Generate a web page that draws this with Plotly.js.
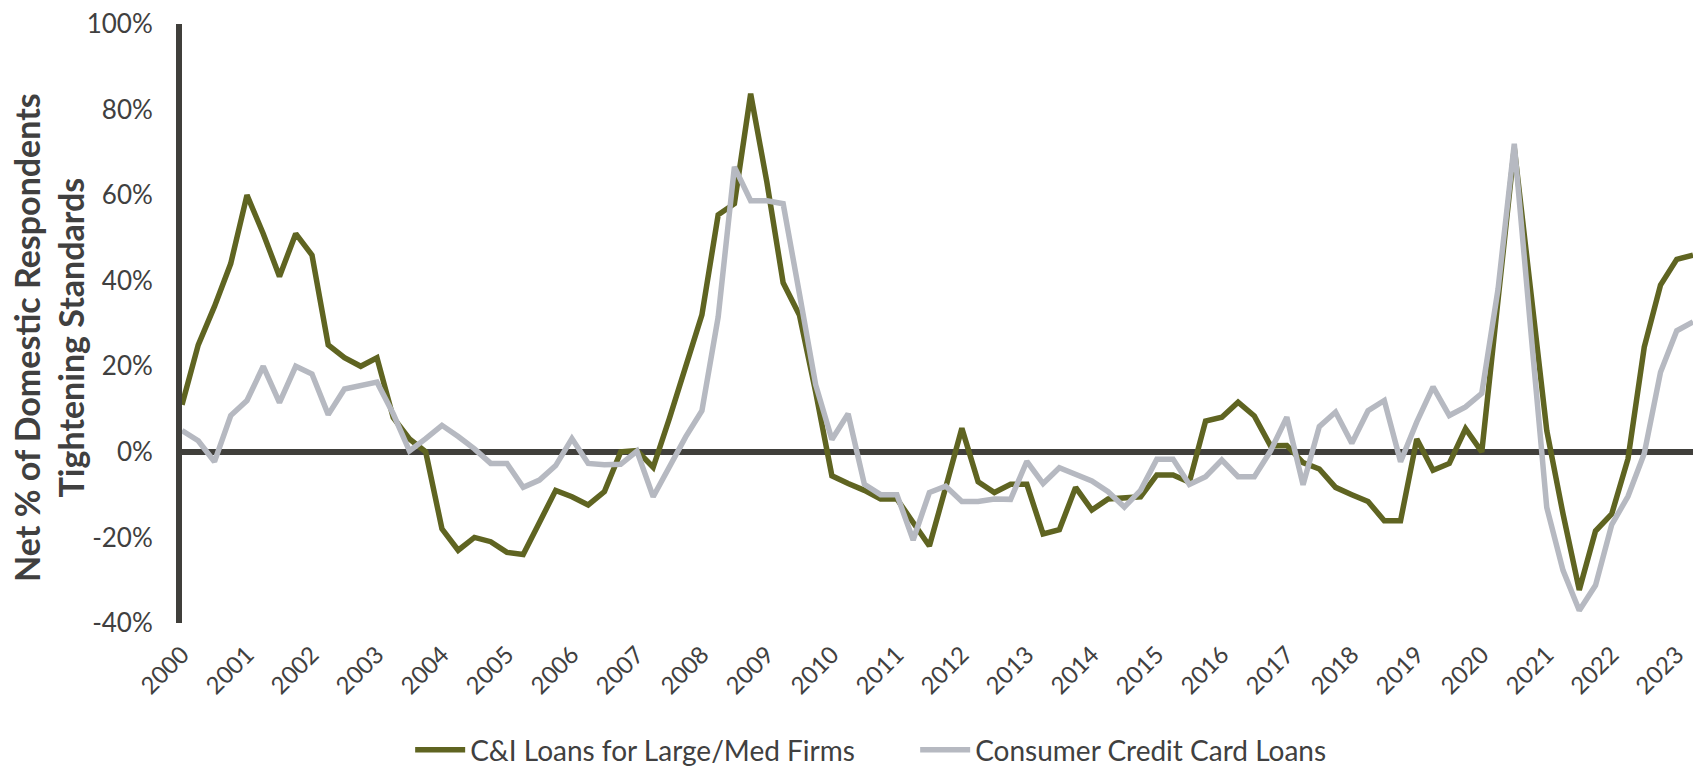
<!DOCTYPE html>
<html>
<head>
<meta charset="utf-8">
<script src="https://cdn.plot.ly/plotly-3.0.1.min.js"></script>
<style>
  html, body { margin: 0; padding: 0; background: #ffffff; }
  #chart { width: 1704px; height: 767px; }
</style>
</head>
<body>
<div id="chart"></div>
<script>
// Quarterly survey dates (2000 Q1 .. 2023 Q2)
const quarters = [
  "2000Q1","2000Q2","2000Q3","2000Q4","2001Q1","2001Q2","2001Q3","2001Q4",
  "2002Q1","2002Q2","2002Q3","2002Q4","2003Q1","2003Q2","2003Q3","2003Q4",
  "2004Q1","2004Q2","2004Q3","2004Q4","2005Q1","2005Q2","2005Q3","2005Q4",
  "2006Q1","2006Q2","2006Q3","2006Q4","2007Q1","2007Q2","2007Q3","2007Q4",
  "2008Q1","2008Q2","2008Q3","2008Q4","2009Q1","2009Q2","2009Q3","2009Q4",
  "2010Q1","2010Q2","2010Q3","2010Q4","2011Q1","2011Q2","2011Q3","2011Q4",
  "2012Q1","2012Q2","2012Q3","2012Q4","2013Q1","2013Q2","2013Q3","2013Q4",
  "2014Q1","2014Q2","2014Q3","2014Q4","2015Q1","2015Q2","2015Q3","2015Q4",
  "2016Q1","2016Q2","2016Q3","2016Q4","2017Q1","2017Q2","2017Q3","2017Q4",
  "2018Q1","2018Q2","2018Q3","2018Q4","2019Q1","2019Q2","2019Q3","2019Q4",
  "2020Q1","2020Q2","2020Q3","2020Q4","2021Q1","2021Q2","2021Q3","2021Q4",
  "2022Q1","2022Q2","2022Q3","2022Q4","2023Q1","2023Q2"
];

// Net % of respondents tightening: C&I loans, large/medium firms
const ciLoans = [
  11, 25, 34, 44, 60, 51, 41, 51,
  46, 25, 22, 20, 22, 8, 3, 0,
  -18, -23, -20, -21, -23.5, -24, -16.5, -9,
  -10.5, -12.4, -9.3, 0, 0.3, -3.6, 7.8, 19.5,
  32, 55.4, 58, 83.7, 63, 39.5, 32, 14,
  -5.6, -7.4, -9, -11, -11, -16.5, -22, -8.4,
  5.5, -7, -9.5, -7.6, -7.6, -19.2, -18.2, -8.3,
  -13.6, -11, -10.8, -10.5, -5.4, -5.4, -7.1, 7.2,
  8.1, 11.6, 8.4, 1.4, 1.5, -2.5, -4, -8.3,
  -10, -11.6, -16.1, -16.1, 3, -4.3, -2.7, 5.4,
  0, 37, 71, 38, 5, -14.5, -32.3, -18.5,
  -14.5, -1.6, 24.5, 39, 45, 46
];

// Net % of respondents tightening: consumer credit card loans
const creditCard = [
  5, 2.6, -2.3, 8.5, 12, 20, 11.5, 20,
  18.2, 8.7, 14.7, 15.4, 16.3, 8.9, 0.2, 3.1,
  6.2, 3.6, 0.7, -2.7, -2.7, -8.3, -6.6, -3.2,
  3.1, -2.7, -3, -2.9, 0.2, -10.5, -3.5, 3.5,
  9.6, 31.5, 66.6, 58.7, 58.7, 58, 37, 15.7,
  2.9, 8.9, -7.6, -10, -10, -20.6, -9.5, -8,
  -11.6, -11.6, -11, -11.1, -2.2, -7.4, -3.7, -5.1,
  -6.8, -9.3, -12.9, -9, -1.7, -1.7, -7.6, -5.8,
  -1.9, -5.8, -5.8, 0.2, 8.1, -7.7, 5.9, 9.3,
  2, 9.6, 12, -2.3, 7, 15.2, 8.5, 10.5,
  13.7, 38, 72, 29, -13, -27.7, -37.1, -31.2,
  -17, -10.4, -0.4, 18.6, 28.3, 30.4
];

const tickQuarters = [
  "2000Q1","2001Q1","2002Q1","2003Q1","2004Q1","2005Q1","2006Q1","2007Q1",
  "2008Q1","2009Q1","2010Q1","2011Q1","2012Q1","2013Q1","2014Q1","2015Q1",
  "2016Q1","2017Q1","2018Q1","2019Q1","2020Q1","2021Q1","2022Q1","2023Q1"
];
const tickYears = [
  "2000","2001","2002","2003","2004","2005","2006","2007",
  "2008","2009","2010","2011","2012","2013","2014","2015",
  "2016","2017","2018","2019","2020","2021","2022","2023"
];

const yTickVals = [-40, -20, 0, 20, 40, 60, 80, 100];
const yTickText = ["-40%", "-20%", "0%", "20%", "40%", "60%", "80%", "100%"];

const seriesNames = ["C&I Loans for Large/Med Firms", "Consumer Credit Card Loans"];
const yTitle = "Net % of Domestic Respondents<br>Tightening Standards";

const FONT = "Lato, 'Open Sans', sans-serif";
const TEXT = "#404040";
const AXIS = "#403F3B";

const traces = [
  {
    type: "scatter", mode: "lines", name: seriesNames[0],
    x: quarters, y: ciLoans,
    line: { color: "#5F6421", width: 5.5, shape: "linear" }
  },
  {
    type: "scatter", mode: "lines", name: seriesNames[1],
    x: quarters, y: creditCard,
    line: { color: "#B6B9C1", width: 5.5, shape: "linear" }
  }
];

const layout = {
  width: 1704, height: 767,
  margin: { l: 182, r: 11, t: 24, b: 144, autoexpand: false },
  paper_bgcolor: "#ffffff", plot_bgcolor: "#ffffff",
  font: { family: FONT, color: TEXT, size: 22 },
  showlegend: true,
  legend: {
    orientation: "h",
    xref: "paper", x: 0.151, xanchor: "left",
    yref: "container", y: 0.022, yanchor: "middle",
    font: { family: FONT, size: 28, color: TEXT },
    entrywidth: 440,
    itemwidth: 50
  },
  xaxis: {
    type: "category",
    range: [0, quarters.length - 1],
    tickmode: "array", tickvals: tickQuarters, ticktext: tickYears,
    tickangle: -45,
    ticks: "outside", ticklen: 7, tickcolor: "rgba(0,0,0,0)",
    tickfont: { family: FONT, size: 24, color: TEXT },
    showgrid: false, zeroline: false, showline: false
  },
  yaxis: {
    range: [-40, 100],
    tickmode: "array", tickvals: yTickVals, ticktext: yTickText,
    ticks: "outside", ticklen: 18, tickcolor: "rgba(0,0,0,0)",
    tickfont: { family: FONT, size: 26, color: TEXT },
    showgrid: false,
    zeroline: true, zerolinecolor: AXIS, zerolinewidth: 6,
    showline: true, linecolor: AXIS, linewidth: 6
  },
  annotations: [
    {
      text: "<b>" + yTitle + "</b>",
      xref: "paper", yref: "paper",
      x: -0.088, y: 0.476, xanchor: "center", yanchor: "middle",
      textangle: -90, showarrow: false, align: "center",
      font: { family: FONT, size: 34, color: TEXT }
    }
  ]
};

Plotly.newPlot("chart", traces, layout, { displayModeBar: false, responsive: false });
</script>
</body>
</html>
